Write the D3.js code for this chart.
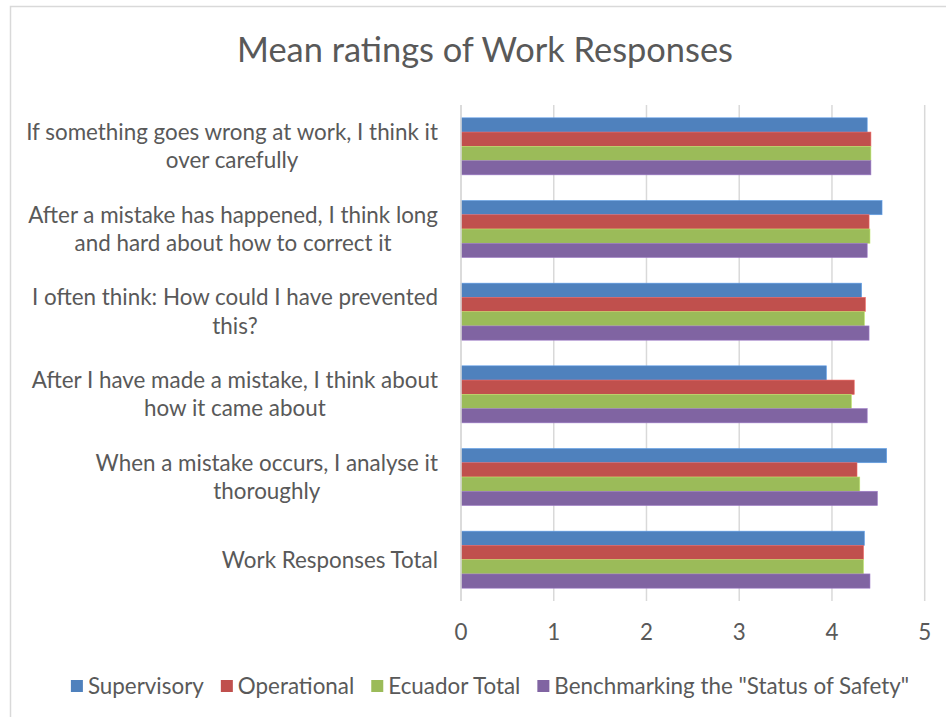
<!DOCTYPE html>
<html>
<head>
<meta charset="utf-8">
<script src="https://cdn.jsdelivr.net/npm/d3@7"></script>
<style>
  html, body { margin: 0; padding: 0; background: #ffffff; }
  svg { display: block; }
  text { font-family: Lato, "Open Sans", sans-serif; fill: #595959; }
</style>
</head>
<body>
<svg id="chart" width="946" height="717"></svg>
<script>
// Survey items (top to bottom), each label split into its wrapped lines
const categories = [
  ["If something goes wrong at work, I think it", "over carefully"],
  ["After a mistake has happened, I think long", "and hard about how to correct it"],
  ["I often think: How could I have prevented", "this?"],
  ["After I have made a mistake, I think about", "how it came about"],
  ["When a mistake occurs, I analyse it", "thoroughly"],
  ["Work Responses Total"]
];

const seriesNames = ["Supervisory", "Operational", "Ecuador Total", "Benchmarking the \"Status of Safety\""];
const seriesColors = ["#4F81BD", "#C0504D", "#9BBB59", "#8064A2"];

// Mean ratings per series, in category order
const supervisory   = [4.38, 4.54, 4.32, 3.94, 4.59, 4.35];
const operational   = [4.42, 4.40, 4.36, 4.24, 4.27, 4.34];
const ecuadorTotal  = [4.42, 4.41, 4.35, 4.21, 4.30, 4.34];
const benchmarking  = [4.42, 4.38, 4.40, 4.38, 4.49, 4.41];

const xTicks = [0, 1, 2, 3, 4, 5];
const title = "Mean ratings of Work Responses";

const seriesValues = [supervisory, operational, ecuadorTotal, benchmarking];

const svg = d3.select("#chart");
const labelSize = 22.4;

// Chart frame
svg.append("path")
  .attr("d", "M10.5,960 V6.5 H960")
  .attr("fill", "none")
  .attr("stroke", "#d9d9d9")
  .attr("stroke-width", 1.5);

// Title
svg.append("text")
  .attr("x", 485)
  .attr("y", 62)
  .attr("text-anchor", "middle")
  .style("font-size", "34.4px")
  .text(title);

const x = d3.scaleLinear().domain([0, 5]).range([461, 924.7]);
const y = d3.scaleBand()
  .domain(d3.range(categories.length))
  .range([105, 601])
  .paddingInner(0.31)
  .paddingOuter(0.155);
const ySeries = d3.scaleBand()
  .domain(d3.range(seriesNames.length))
  .range([0, y.bandwidth()]);

// Vertical gridlines
svg.append("g").selectAll("line")
  .data(xTicks)
  .join("line")
  .attr("x1", d => x(d)).attr("x2", d => x(d))
  .attr("y1", 105).attr("y2", 601)
  .attr("stroke", "#d9d9d9")
  .attr("stroke-width", 1.5);

// Bars
const groups = svg.append("g").selectAll("g")
  .data(categories.map((c, i) => i))
  .join("g")
  .attr("transform", i => `translate(0,${y(i)})`);

groups.selectAll("rect")
  .data(i => seriesValues.map((vals, s) => ({ s, v: vals[i] })))
  .join("rect")
  .attr("x", x(0))
  .attr("y", d => ySeries(d.s))
  .attr("width", d => x(d.v) - x(0))
  .attr("height", ySeries.bandwidth())
  .attr("fill", d => seriesColors[d.s])
  .attr("stroke", d => d3.color(seriesColors[d.s]).brighter(0.6))
  .attr("stroke-width", 0.6);

// Category axis line
svg.append("line")
  .attr("x1", x(0)).attr("x2", x(0))
  .attr("y1", 105).attr("y2", 601)
  .attr("stroke", "#d9d9d9")
  .attr("stroke-width", 1.5);

// Category labels: wrapped lines centred on each other, block right-aligned
const labelRight = 438;
const lineGap = 28.5;
categories.forEach((lines, i) => {
  const cy = y(i) + y.bandwidth() / 2;
  const g = svg.append("g");
  const texts = lines.map((ln, k) => g.append("text")
    .attr("y", cy + (k - (lines.length - 1) / 2) * lineGap)
    .attr("dy", "0.35em")
    .attr("text-anchor", "middle")
    .style("font-size", labelSize + "px")
    .text(ln));
  const w = d3.max(texts, t => t.node().getComputedTextLength());
  texts.forEach(t => t.attr("x", labelRight - w / 2));
});

// Value axis tick labels
svg.append("g").selectAll("text")
  .data(xTicks)
  .join("text")
  .attr("x", d => x(d))
  .attr("y", 632)
  .attr("dy", "0.35em")
  .attr("text-anchor", "middle")
  .style("font-size", labelSize + "px")
  .text(d => d3.format("d")(d));

// Legend, laid out left to right and centred
const legend = svg.append("g");
const items = seriesNames.map((name, s) => {
  const g = legend.append("g");
  g.append("rect")
    .attr("width", 12).attr("height", 12)
    .attr("y", -6)
    .attr("fill", seriesColors[s]);
  const t = g.append("text")
    .attr("x", 17)
    .attr("dy", "0.35em")
    .style("font-size", labelSize + "px")
    .text(name);
  return { g, w: 17 + t.node().getComputedTextLength() };
});
const itemGap = 17;
const totalW = d3.sum(items, d => d.w) + itemGap * (items.length - 1);
let lx = 490 - totalW / 2;
items.forEach(it => {
  it.g.attr("transform", `translate(${lx},686)`);
  lx += it.w + itemGap;
});
</script>
</body>
</html>
